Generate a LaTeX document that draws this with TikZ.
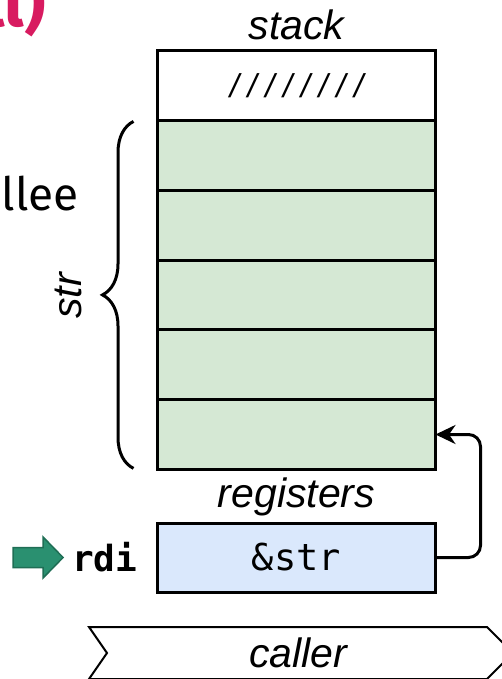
\documentclass[tikz,border=0pt]{standalone}
\usepackage{fontspec}
\setmainfont{Liberation Sans}
\setmonofont{DejaVu Sans Mono}
\newfontfamily\firafont{Fira Sans}
\newfontfamily\slashfont[LetterSpace=26]{Liberation Sans}
\usetikzlibrary{positioning, arrows.meta, decorations.pathreplacing}
\definecolor{slotgreen}{HTML}{D5E8D4}
\definecolor{regblue}{HTML}{DAE8FC}
\definecolor{titlered}{HTML}{D81B60}
\definecolor{markgreen}{HTML}{2A9070}
\definecolor{markedge}{HTML}{1F6E55}
\tikzstyle{slot} = [rectangle, minimum width=278pt, minimum height=69.8pt, inner sep=0pt, outer sep=0pt, draw=black, line width=3pt, fill=slotgreen]
\tikzstyle{padslot} = [slot, fill=white, font=\fontsize{33}{38}\selectfont\slashfont\itshape]
\tikzstyle{regslot} = [slot, minimum height=69pt, fill=regblue, font=\fontsize{37}{42}\selectfont\ttfamily]
\tikzstyle{label} = [inner sep=0pt, font=\fontsize{41}{48}\selectfont\itshape]
\tikzstyle{arrow} = [line width=3pt, -{Stealth[length=20pt, width=19pt]}]

\begin{document}
\begin{tikzpicture}[x=1pt, y=-1pt]
\useasboundingbox (0,0) rectangle (501,679);
\node (title) [anchor=base east, inner sep=0pt, text=titlered, font=\fontsize{66}{72}\selectfont\firafont\bfseries] at (46,27) {ll)};
\node (side) [anchor=base east, inner sep=0pt, font=\fontsize{46}{52}\selectfont\firafont] at (79,210) {llee};
\node (pad) [padslot] at (296.5,85.5) {////////};
\node (s1) [slot, below=0pt of pad] {};
\node (s2) [slot, below=0pt of s1] {};
\node (s3) [slot, below=0pt of s2] {};
\node (s4) [slot, below=0pt of s3] {};
\node (s5) [slot, below=0pt of s4] {};
\node (stack) [label, above=10pt of pad] {stack};
\node (reg) [regslot] at (296.5,557.5) {\&str};
\node (regs) [label, above=7pt of reg] {registers};
\node (rdi) [inner sep=0pt, left=20pt of reg, font=\fontsize{36}{42}\selectfont\ttfamily\bfseries] {rdi};
\draw [decorate, decoration={brace, amplitude=31pt}, line width=3pt] ([xshift=-24pt, yshift=1pt]s5.south west) -- ([xshift=-24pt, yshift=-1pt]s1.north west);
\node (str) [label, rotate=90] at (68.5,296) {str};
\draw [arrow, rounded corners=12pt] (reg.east) -- ++(45,0) |- (s5.east);
% the green marker pointing at rdi
\draw [fill=markgreen, draw=markedge, line width=1.5pt] ([xshift=-9pt]rdi.west) -- ++(-20,-20.5) -- ++(0,10.5) -- ++(-30,0) -- ++(0,20) -- ++(30,0) -- ++(0,10.5) -- cycle;
% caller step
\draw [line width=2pt] (89,627) -- (487,627) -- (513,653) -- (487,679) -- (89,679) -- (107,653) -- cycle;
\node (caller) [label] at (298,653) {caller};
\end{tikzpicture}
\end{document}
